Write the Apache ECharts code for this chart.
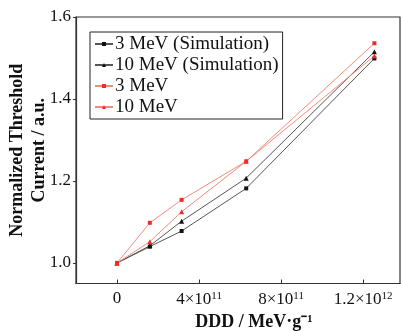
<!DOCTYPE html>
<html><head><meta charset="utf-8">
<script src="https://cdn.jsdelivr.net/npm/echarts@6/dist/echarts.min.js"></script>
<style>html,body{margin:0;padding:0;background:#fff}#c{width:401px;height:331px}</style>
</head><body><div id="c"></div>
<script>
const ddd = [0, 1.6e11, 3.15e11, 6.3e11, 1.255e12];
const sim3 = [1.0, 1.040, 1.078, 1.182, 1.499];
const sim10 = [1.0, 1.042, 1.102, 1.207, 1.515];
const exp3 = [1.0, 1.098, 1.154, 1.248, 1.536];
const exp10 = [1.0, 1.052, 1.125, 1.248, 1.505];
const seriesNames = ['3 MeV (Simulation)', '10 MeV (Simulation)', '3 MeV', '10 MeV'];
const xTicks = [0, 4e11, 8e11, 1.2e12];
const xTickLabels = ['0', '4×10{s|11}', '8×10{s|11}', '1.2×10{s|12}'];
const yTicks = [1.0, 1.2, 1.4, 1.6];

const font = 'Liberation Serif';
const pair = (xs, ys) => xs.map((x, i) => [x, ys[i]]);
const chart = echarts.init(document.getElementById('c'));
const blackLine = '#555', blackMark = '#111', redLine = '#f28b78', redMark = '#ef2b2b';
function mk(name, data, sym, size, lc, mc) {
  return {name, type: 'line', data, symbol: sym, symbolSize: size, showSymbol: true,
    lineStyle: {color: lc, width: 1}, itemStyle: {color: mc}, animation: false};
}
chart.setOption({
  animation: false,
  grid: {left: 76, top: 17, right: 1, bottom: 47.5, outerBoundsMode: 'none', containLabel: false,
    show: true, borderColor: '#333', borderWidth: 1.2, backgroundColor: 'transparent'},
  legend: {
    orient: 'vertical', left: 90, top: 32, data: seriesNames,
    borderColor: '#222', borderWidth: 1, padding: [2, 4, 2, 4], itemGap: 1,
    itemWidth: 18, itemHeight: 5, backgroundColor: '#fff',
    textStyle: {fontFamily: font, fontSize: 19, color: '#111', lineHeight: 20, padding: [0, 0, 0, -3]}
  },
  xAxis: {
    type: 'value', min: -2e11, max: 1.38e12,
    name: 'DDD / MeV·g⁻¹', nameLocation: 'middle', nameGap: 30, nameMoveOverlap: false,
    nameTextStyle: {fontFamily: font, fontSize: 18, fontWeight: 'bold', color: '#111', padding: [0, 0, 0, 32]},
    axisLine: {onZero: false, lineStyle: {color: '#333', width: 1.2}},
    axisTick: {inside: true, length: 4, customValues: xTicks, lineStyle: {color: '#333'}},
    splitLine: {show: false},
    axisLabel: {customValues: xTicks, margin: 7, fontFamily: font, fontSize: 17, color: '#111',
      formatter: v => xTickLabels[xTicks.indexOf(v)] || '',
      rich: {s: {fontFamily: font, fontSize: 11, color: '#111', verticalAlign: 'top', padding: [0, 0, 8, 0]}}}
  },
  yAxis: {
    type: 'value', min: 0.95, max: 1.6,
    name: 'Normalized Threshold\nCurrent / a.u.', nameLocation: 'middle', nameGap: 26, nameMoveOverlap: false,
    nameTextStyle: {fontFamily: font, fontSize: 18, fontWeight: 'bold', color: '#111', lineHeight: 22},
    axisLine: {onZero: false, lineStyle: {color: '#333', width: 1.2}},
    axisTick: {inside: false, length: 3, customValues: yTicks, lineStyle: {color: '#333'}},
    splitLine: {show: false},
    axisLabel: {customValues: yTicks, margin: 5, fontFamily: font, fontSize: 17, color: '#111',
      formatter: v => v.toFixed(1)}
  },
  series: [
    mk(seriesNames[0], pair(ddd, sim3), 'rect', 4, blackLine, blackMark),
    mk(seriesNames[1], pair(ddd, sim10), 'triangle', 5, blackLine, blackMark),
    mk(seriesNames[2], pair(ddd, exp3), 'rect', 4, redLine, redMark),
    mk(seriesNames[3], pair(ddd, exp10), 'triangle', 5, redLine, redMark)
  ]
});
</script></body></html>
